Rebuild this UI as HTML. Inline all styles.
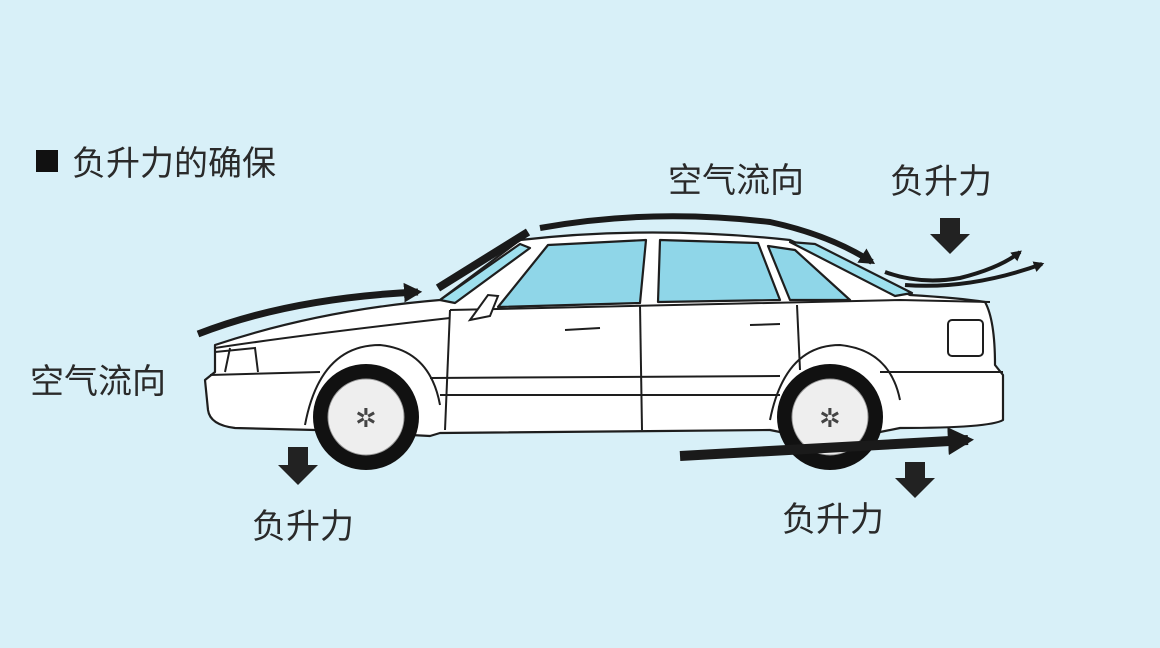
<!DOCTYPE html>
<html><head><meta charset="utf-8"><style>
html,body{margin:0;padding:0;background:#d8f0f8;}
svg{display:block}
text{font-family:"Liberation Sans","Noto Sans CJK SC",sans-serif;fill:#2a2a2a;font-size:34px}
</style></head><body>
<svg width="1160" height="648" viewBox="0 0 1160 648">
<rect width="1160" height="648" fill="#d8f0f8"/>
<defs>
<marker id="ah" markerWidth="4" markerHeight="4" refX="2" refY="2" orient="auto" markerUnits="strokeWidth"><path d="M0,0.6 L2.6,2 L0,3.4 Z" fill="#1a1a1a"/></marker>
</defs>
<rect x="36" y="150" width="22" height="22" fill="#111"/>
<text x="72" y="175">负升力的确保</text>
<text x="668" y="192">空气流向</text>
<text x="890" y="193">负升力</text>
<text x="30" y="393">空气流向</text>
<text x="252" y="538">负升力</text>
<text x="782" y="531">负升力</text>
<g stroke="#1e1e1e" stroke-width="2.2" fill="#fff" stroke-linejoin="round">
<path d="M215,345 Q320,310 440,300 L520,240 Q650,225 790,240 L910,295 Q960,298 985,302 Q995,320 995,365 L1003,375 L1003,420 Q990,428 900,428 L880,432 L780,432 L770,430 L440,433 L430,436 L315,430 L235,428 Q210,425 208,410 L205,380 L215,372 Z"/>
<path d="M498,307 L548,245 L646,240 L640,303 Z" fill="#8fd6e8"/>
<path d="M660,240 L758,243 L780,300 L658,302 Z" fill="#8fd6e8"/>
<path d="M768,246 L795,250 L850,300 L790,300 Z" fill="#8fd6e8"/>
<path d="M440,300 L520,244 L530,248 L455,303 Z" fill="#9ee0ee"/>
<path d="M790,242 L815,244 L912,293 L895,296 Z" fill="#9ee0ee"/>
</g>
<g stroke="#1e1e1e" stroke-width="2" fill="none">
<path d="M450,310 L900,300 L990,302"/>
<path d="M215,348 Q300,335 450,318"/>
<path d="M450,310 L445,430"/>
<path d="M640,305 L642,430"/>
<path d="M797,305 L800,370"/>
<path d="M210,375 L320,372 M430,378 L780,376 M880,372 L1003,372"/>
<path d="M440,395 L780,395"/>
<path d="M230,348 L225,372 M215,352 L255,348 L258,372"/>
<rect x="948" y="320" width="35" height="36" rx="4" fill="#fff"/>
<path d="M305,425 Q320,345 380,345 Q430,350 440,405"/>
<path d="M770,420 Q785,345 840,345 Q890,350 900,400"/>
<path d="M565,330 L600,328 M750,325 L780,324"/>
<path d="M470,320 L488,295 L498,296 L490,316 Z" fill="#fff"/>
</g>
<g>
<circle cx="366" cy="417" r="53" fill="#111"/>
<circle cx="366" cy="417" r="38" fill="#eee" stroke="#999"/>
<circle cx="830" cy="417" r="53" fill="#111"/>
<circle cx="830" cy="417" r="38" fill="#eee" stroke="#999"/>
<text x="355" y="427" style="font-size:26px;fill:#444">✲</text>
<text x="819" y="427" style="font-size:26px;fill:#444">✲</text>
</g>
<g stroke="#1a1a1a" fill="none" stroke-linecap="butt">
<path d="M198,334 Q290,298 418,292" stroke-width="7" marker-end="url(#ah)"/>
<path d="M438,288 L528,232" stroke-width="8"/>
<path d="M540,228 Q650,208 770,222 Q830,235 872,262" stroke-width="6" marker-end="url(#ah)"/>
<path d="M885,272 Q920,285 960,278 Q1000,268 1020,252" stroke-width="4" marker-end="url(#ah)"/>
<path d="M905,285 Q970,290 1042,264" stroke-width="4" marker-end="url(#ah)"/>
<path d="M680,456 L968,440" stroke-width="10" marker-end="url(#ah)"/>
</g>
<g fill="#222">
<path d="M940,218 h20 v16 h10 l-20,20 l-20,-20 h10 z"/>
<path d="M288,447 h20 v18 h10 l-20,20 l-20,-20 h10 z"/>
<path d="M905,462 h20 v16 h10 l-20,20 l-20,-20 h10 z"/>
</g>
</svg>
</body></html>
